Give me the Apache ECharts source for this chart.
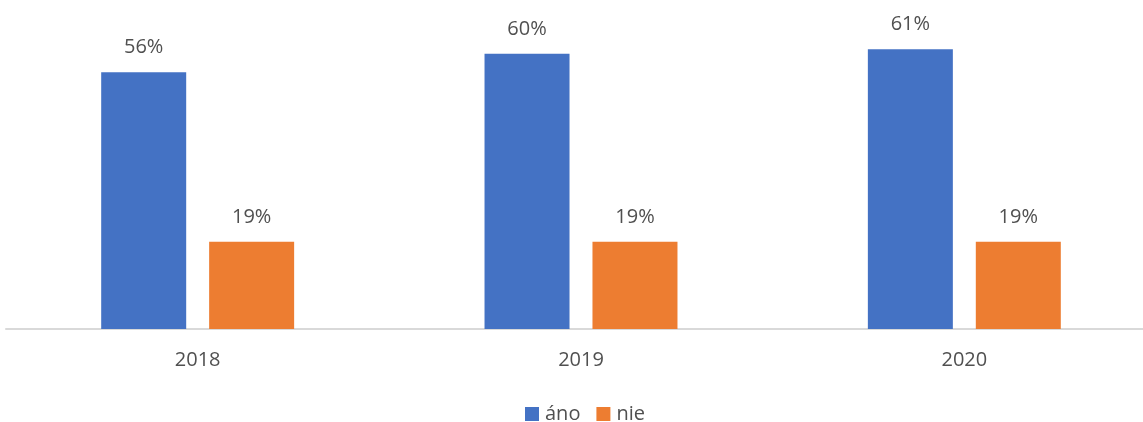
<!DOCTYPE html>
<html>
<head>
<meta charset="utf-8">
<script src="https://cdn.jsdelivr.net/npm/echarts@6/dist/echarts.min.js"></script>
<style>
  html, body { margin: 0; padding: 0; background: #fff; }
  #chart { width: 1143px; height: 422px; }
</style>
</head>
<body>
<div id="chart"></div>
<script>
const years = ['2018', '2019', '2020']
const ano = [56, 60, 61]
const nie = [19, 19, 19]

const textColor = '#505050'
const font = '"Open Sans", "Noto Sans", sans-serif'

const chart = echarts.init(document.getElementById('chart'))

const barLabel = {
  show: true,
  position: 'top',
  distance: 15,
  color: textColor,
  fontFamily: font,
  fontSize: 20,
  formatter: p => p.value + '%'
}

chart.setOption({
  animation: false,
  grid: {
    left: 6,
    top: 8,
    bottom: 93,
    right: -13,
    outerBoundsMode: 'none',
    containLabel: false
  },
  legend: {
    data: ['áno', 'nie'],
    top: 399,
    left: 520,
    itemWidth: 14,
    itemHeight: 14,
    itemGap: 16,
    icon: 'rect',
    textStyle: { color: textColor, fontFamily: font, fontSize: 20, padding: [0, 0, 0, 1] }
  },
  xAxis: {
    type: 'category',
    data: years,
    axisLine: { lineStyle: { color: '#d9d9d9', width: 2 } },
    axisTick: { show: false },
    axisLabel: { color: textColor, fontFamily: font, fontSize: 20, margin: 21 }
  },
  yAxis: {
    type: 'value',
    min: 0,
    max: 70,
    show: false
  },
  series: [
    {
      name: 'áno',
      type: 'bar',
      data: ano,
      barWidth: 85,
      barGap: '27%',
      itemStyle: { color: '#4472c4' },
      label: barLabel
    },
    {
      name: 'nie',
      type: 'bar',
      data: nie,
      barWidth: 85,
      itemStyle: { color: '#ed7d31' },
      label: barLabel
    }
  ]
})
</script>
</body>
</html>
